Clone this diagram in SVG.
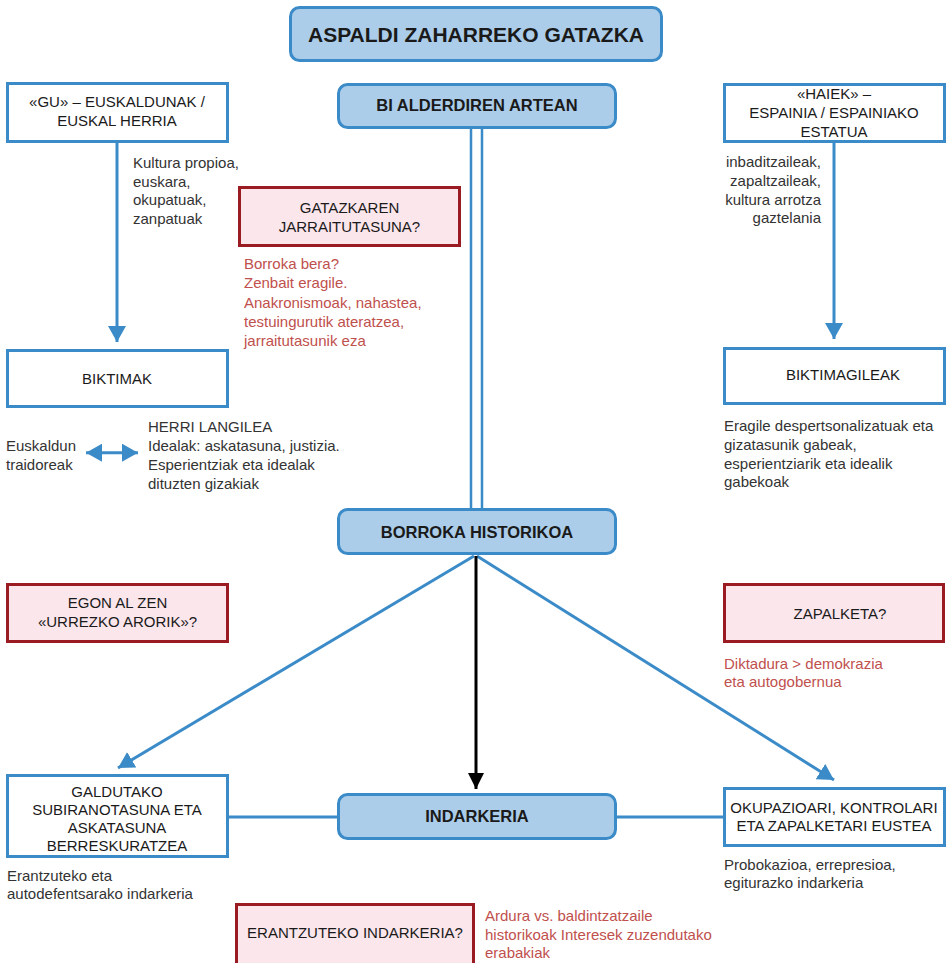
<svg xmlns="http://www.w3.org/2000/svg" width="949" height="963" viewBox="0 0 949 963">
<style>
.rbox{fill:#abcdea;stroke:#3b8bc8;stroke-width:3}
.wbox{fill:#ffffff;stroke:#3b8bc8;stroke-width:3}
.pbox{fill:#fbe6ec;stroke:#9a1b22;stroke-width:3}
.t{font-family:"Liberation Sans",Arial,sans-serif;font-size:15px;fill:#1a1a1a}
.c{text-anchor:middle}
.b{font-weight:bold;font-size:16.5px}
.g{fill:#333333}
.r{fill:#c0504d}
.line{fill:none;stroke:#3b8bc8;stroke-width:3}
</style>
<defs>
<marker id="ab" markerUnits="userSpaceOnUse" markerWidth="18" markerHeight="18" refX="16" refY="9" orient="auto-start-reverse" viewBox="0 0 18 18">
<path d="M0,0 L16,9 L0,18 z" fill="#3b8bc8"/>
</marker>
<marker id="ak" markerUnits="userSpaceOnUse" markerWidth="18" markerHeight="18" refX="16" refY="8" orient="auto" viewBox="0 0 18 16">
<path d="M0,0 L16,8 L0,16 z" fill="#000000"/>
</marker>
</defs>

<g id="connectors">
<path d="M476.5,128 V510" fill="none" stroke="#3b8bc8" stroke-width="13.5"/>
<path d="M476.5,126 V512" fill="none" stroke="#ffffff" stroke-width="8.5"/>
<path class="line" d="M117,143 V342" marker-end="url(#ab)"/>
<path class="line" d="M834,143 V339" marker-end="url(#ab)"/>
<path class="line" d="M86,452.7 H138" marker-start="url(#ab)" marker-end="url(#ab)"/>
<path class="line" d="M474,556 L118,768" marker-end="url(#ab)"/>
<path class="line" d="M477,556 L834,780" marker-end="url(#ab)"/>
<path d="M476,556 V789" fill="none" stroke="#000000" stroke-width="3" marker-end="url(#ak)"/>
<path class="line" d="M229,817 H338"/>
<path class="line" d="M616,817 H724"/>
</g>

<g id="title">
<rect class="rbox" x="290.5" y="7.5" width="371" height="53" rx="9"/>
<text class="t c b" x="476" y="41.5" style="font-size:21px">ASPALDI ZAHARREKO GATAZKA</text>
</g>

<g id="bi-alderdiren">
<rect class="rbox" x="338.5" y="84.5" width="277" height="43" rx="9"/>
<text class="t c b" x="477" y="111">BI ALDERDIREN ARTEAN</text>
</g>

<g id="gu">
<rect class="wbox" x="7.5" y="83.5" width="220" height="58"/>
<text class="t c" x="117" y="107.3">«GU» – EUSKALDUNAK /</text>
<text class="t c" x="117" y="126">EUSKAL HERRIA</text>
</g>
<g id="gu-note">
<text class="t g" x="133" y="168">Kultura propioa,</text>
<text class="t g" x="133" y="186.5">euskara,</text>
<text class="t g" x="133" y="205">okupatuak,</text>
<text class="t g" x="133" y="223.5">zanpatuak</text>
</g>

<g id="gatazkaren">
<rect class="pbox" x="239.5" y="187.5" width="220" height="58"/>
<text class="t c" x="349.5" y="213">GATAZKAREN</text>
<text class="t c" x="349.5" y="232">JARRAITUTASUNA?</text>
</g>
<g id="gatazkaren-note">
<text class="t r" x="244" y="269">Borroka bera?</text>
<text class="t r" x="244" y="288.3">Zenbait eragile.</text>
<text class="t r" x="244" y="307.6">Anakronismoak, nahastea,</text>
<text class="t r" x="244" y="326.9">testuingurutik ateratzea,</text>
<text class="t r" x="244" y="346.2">jarraitutasunik eza</text>
</g>

<g id="haiek">
<rect class="wbox" x="724.5" y="84.5" width="220" height="57"/>
<text class="t c" x="834" y="99">«HAIEK» –</text>
<text class="t c" x="834" y="118">ESPAINIA / ESPAINIAKO</text>
<text class="t c" x="834" y="136.7">ESTATUA</text>
</g>
<g id="haiek-note">
<text class="t g" x="821" y="167.3" text-anchor="end">inbaditzaileak,</text>
<text class="t g" x="821" y="185.9" text-anchor="end">zapaltzaileak,</text>
<text class="t g" x="821" y="204.6" text-anchor="end">kultura arrotza</text>
<text class="t g" x="821" y="223.3" text-anchor="end">gaztelania</text>
</g>

<g id="biktimak">
<rect class="wbox" x="7.5" y="350.5" width="220" height="56"/>
<text class="t c" x="117" y="384">BIKTIMAK</text>
</g>
<g id="biktimak-note">
<text class="t g" x="148" y="432.3">HERRI LANGILEA</text>
<text class="t g" x="148" y="451.3">Idealak: askatasuna, justizia.</text>
<text class="t g" x="148" y="470.3">Esperientziak eta idealak</text>
<text class="t g" x="148" y="489.3">dituzten gizakiak</text>
</g>
<g id="traidoreak">
<text class="t g" x="6" y="451.3">Euskaldun</text>
<text class="t g" x="6" y="470">traidoreak</text>
</g>

<g id="biktimagileak">
<rect class="wbox" x="724.5" y="348.5" width="220" height="55"/>
<text class="t c" x="843" y="380">BIKTIMAGILEAK</text>
</g>
<g id="biktimagileak-note">
<text class="t g" x="724" y="430.7">Eragile despertsonalizatuak eta</text>
<text class="t g" x="724" y="449.6">gizatasunik gabeak,</text>
<text class="t g" x="724" y="468.5">esperientziarik eta idealik</text>
<text class="t g" x="724" y="487.4">gabekoak</text>
</g>

<g id="borroka">
<rect class="rbox" x="338.5" y="509.5" width="277" height="44" rx="9"/>
<text class="t c b" x="477" y="537.7">BORROKA HISTORIKOA</text>
</g>

<g id="egon">
<rect class="pbox" x="7.5" y="584.5" width="220" height="57"/>
<text class="t c" x="117.5" y="608.3">EGON AL ZEN</text>
<text class="t c" x="117.5" y="627.3">«URREZKO ARORIK»?</text>
</g>

<g id="zapalketa">
<rect class="pbox" x="724.5" y="584.5" width="219" height="57"/>
<text class="t c" x="840" y="619">ZAPALKETA?</text>
</g>
<g id="zapalketa-note">
<text class="t r" x="724" y="669">Diktadura &gt; demokrazia</text>
<text class="t r" x="724" y="687.3">eta autogobernua</text>
</g>

<g id="galdutako">
<rect class="wbox" x="7.5" y="775.5" width="220" height="81"/>
<text class="t c" x="117" y="796.7">GALDUTAKO</text>
<text class="t c" x="117" y="815">SUBIRANOTASUNA ETA</text>
<text class="t c" x="117" y="833">ASKATASUNA</text>
<text class="t c" x="117" y="850.7">BERRESKURATZEA</text>
</g>
<g id="galdutako-note">
<text class="t g" x="7" y="881">Erantzuteko eta</text>
<text class="t g" x="7" y="899.3">autodefentsarako indarkeria</text>
</g>

<g id="indarkeria">
<rect class="rbox" x="338.5" y="794.5" width="277" height="44" rx="9"/>
<text class="t c b" x="477" y="821.7">INDARKERIA</text>
</g>

<g id="okupazioari">
<rect class="wbox" x="724.5" y="788.5" width="220" height="57"/>
<text class="t c" x="834" y="812.7">OKUPAZIOARI, KONTROLARI</text>
<text class="t c" x="834" y="830.7">ETA ZAPALKETARI EUSTEA</text>
</g>
<g id="okupazioari-note">
<text class="t g" x="724" y="870">Probokazioa, errepresioa,</text>
<text class="t g" x="724" y="888.3">egiturazko indarkeria</text>
</g>

<g id="erantzuteko">
<rect class="pbox" x="236.5" y="904.5" width="237" height="66"/>
<text class="t c" x="355" y="938.3">ERANTZUTEKO INDARKERIA?</text>
</g>
<g id="erantzuteko-note">
<text class="t r" x="485" y="920.7">Ardura vs. baldintzatzaile</text>
<text class="t r" x="485" y="939.5">historikoak Interesek zuzendutako</text>
<text class="t r" x="485" y="958.3">erabakiak</text>
</g>
</svg>
